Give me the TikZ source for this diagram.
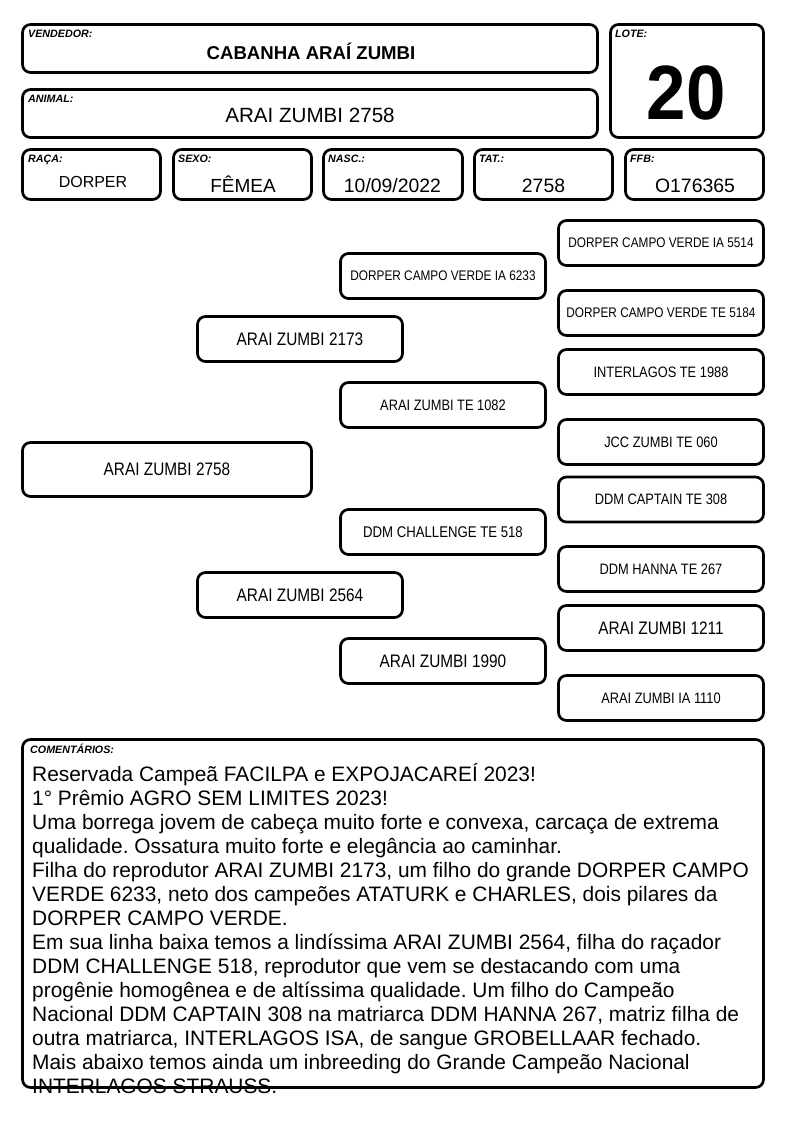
\documentclass[tikz,border=0pt]{standalone}
\usepackage{fontspec}
\setmainfont{Liberation Sans}
\newfontfamily\narrowfont[FakeStretch=0.85]{Liberation Sans}
\newcommand\fsz[1]{\fontsize{#1}{#1}\selectfont}
\frenchspacing
\begin{document}
\begin{tikzpicture}[x=1pt,y=-1pt,
  frame/.style={draw, line width=2.7pt, rounded corners=8pt, inner sep=0pt, outer sep=0pt},
  lbl/.style={anchor=base west, inner sep=0pt, font=\fsz{10.7}\bfseries\itshape},
  val/.style={anchor=base, inner sep=0pt, font=\fsz{19.4}},
  smallbox/.style={frame, minimum width=138pt, minimum height=50pt},
  ped/.style={frame, minimum width=205pt, minimum height=45pt},
  pa/.style={font=\narrowfont\fsz{18.1}},
  pb/.style={font=\narrowfont\fsz{15.1}},
  pc/.style={font=\narrowfont\fsz{13.9}},
  ctext/.style={anchor=base west, inner sep=0pt, font=\frenchspacing\fsz{20.9}}
]
\fill[white] (0,0) rectangle (794,1123);
\useasboundingbox (0,0) rectangle (794,1123);

% header
\node[frame, minimum width=575pt, minimum height=48pt] (vend) at (310,48.5) {};
\node[frame, minimum width=153pt, minimum height=113pt] (lote) at (687,81) {};
\node[frame, minimum width=575pt, minimum height=48pt] (anim) at (310,113.5) {};
\node[smallbox] (raca) at (91.5,174.5) {};
\node[smallbox] (sexo) at (242.5,174.5) {};
\node[smallbox, minimum width=139pt] (nasc) at (393,174.5) {};
\node[smallbox] (tat) at (543.5,174.5) {};
\node[smallbox] (ffb) at (694.5,174.5) {};

\node[lbl] (lvend) at (28,38) {VENDEDOR:};
\node[lbl] (llote) at (615,38) {LOTE:};
\node[lbl] (lanim) at (28,103) {ANIMAL:};
\node[lbl] (lraca) at (28,163) {RAÇA:};
\node[lbl] (lsexo) at (178,163) {SEXO:};
\node[lbl] (lnasc) at (328,163) {NASC.:};
\node[lbl] (ltat) at (479,163) {TAT.:};
\node[lbl] (lffb) at (630,163) {FFB:};

\node[val, font=\fsz{18.6}\bfseries] (vvend) at (311,60) {CABANHA ARAÍ ZUMBI};
\node[val, font=\fsz{20.6}] (vanim) at (310,123) {ARAI ZUMBI 2758};
\node[val, font=\fsz{77}\bfseries] (vlote) at (686,120) {\scalebox{0.92}[1]{20}};
\node[val, font=\fsz{16}] (vraca) at (93,188) {DORPER};
\node[val, font=\fsz{19}] (vsexo) at (243,193) {FÊMEA};
\node[val] (vnasc) at (392.5,193) {10/09/2022};
\node[val] (vtat) at (543.5,193) {2758};
\node[val] (vffb) at (695,193) {O176365};

% pedigree
\node[frame, minimum width=289pt, minimum height=54pt, pa] (p0) at (167,469.5) {ARAI ZUMBI 2758};
\node[ped, pa] (p1) at (300,339) {ARAI ZUMBI 2173};
\node[ped, pa] (p2) at (300,595) {ARAI ZUMBI 2564};
\node[ped, pc] (g1) at (443,276) {DORPER CAMPO VERDE IA 6233};
\node[ped, pb] (g2) at (443,405) {ARAI ZUMBI TE 1082};
\node[ped, pb, font=\narrowfont\fsz{15.5}] (g3) at (443,532) {DDM CHALLENGE TE 518};
\node[ped, pa] (g4) at (443,661) {ARAI ZUMBI 1990};
\node[ped, pc] (h1) at (661,243) {DORPER CAMPO VERDE IA 5514};
\node[ped, pc] (h2) at (661,313) {DORPER CAMPO VERDE TE 5184};
\node[ped, pb] (h3) at (661,372) {INTERLAGOS TE 1988};
\node[ped, pb] (h4) at (661,442) {JCC ZUMBI TE 060};
\node[ped, pb] (h5) at (661,499.5) {DDM CAPTAIN TE 308};
\node[ped, pb] (h6) at (661,569) {DDM HANNA TE 267};
\node[ped, pa] (h7) at (661,628) {ARAI ZUMBI 1211};
\node[ped, pb] (h8) at (661,698) {ARAI ZUMBI IA 1110};

% comments
\node[lbl] (lcom) at (30,753) {COMENTÁRIOS:};
\node[ctext] (c1) at (32,781) {Reservada Campeã FACILPA e EXPOJACAREÍ 2023!};
\node[ctext] (c2) at (32,805) {1° Prêmio AGRO SEM LIMITES 2023!};
\node[ctext] (c3) at (32,829) {Uma borrega jovem de cabeça muito forte e convexa, carcaça de extrema};
\node[ctext] (c4) at (32,853) {qualidade. Ossatura muito forte e elegância ao caminhar.};
\node[ctext] (c5) at (32,877) {Filha do reprodutor ARAI ZUMBI 2173, um filho do grande DORPER CAMPO};
\node[ctext] (c6) at (32,901) {VERDE 6233, neto dos campeões ATATURK e CHARLES, dois pilares da};
\node[ctext] (c7) at (32,925) {DORPER CAMPO VERDE.};
\node[ctext] (c8) at (32,949) {Em sua linha baixa temos a lindíssima ARAI ZUMBI 2564, filha do raçador};
\node[ctext] (c9) at (32,973) {DDM CHALLENGE 518, reprodutor que vem se destacando com uma};
\node[ctext] (c10) at (32,997) {progênie homogênea e de altíssima qualidade. Um filho do Campeão};
\node[ctext] (c11) at (32,1021) {Nacional DDM CAPTAIN 308 na matriarca DDM HANNA 267, matriz filha de};
\node[ctext] (c12) at (32,1045) {outra matriarca, INTERLAGOS ISA, de sangue GROBELLAAR fechado.};
\node[ctext] (c13) at (32,1069) {Mais abaixo temos ainda um inbreeding do Grande Campeão Nacional};
\node[ctext] (c14) at (32,1093) {INTERLAGOS STRAUSS.};
\node[frame, minimum width=741pt, minimum height=348pt] (com) at (393,913.5) {};
\end{tikzpicture}
\end{document}
